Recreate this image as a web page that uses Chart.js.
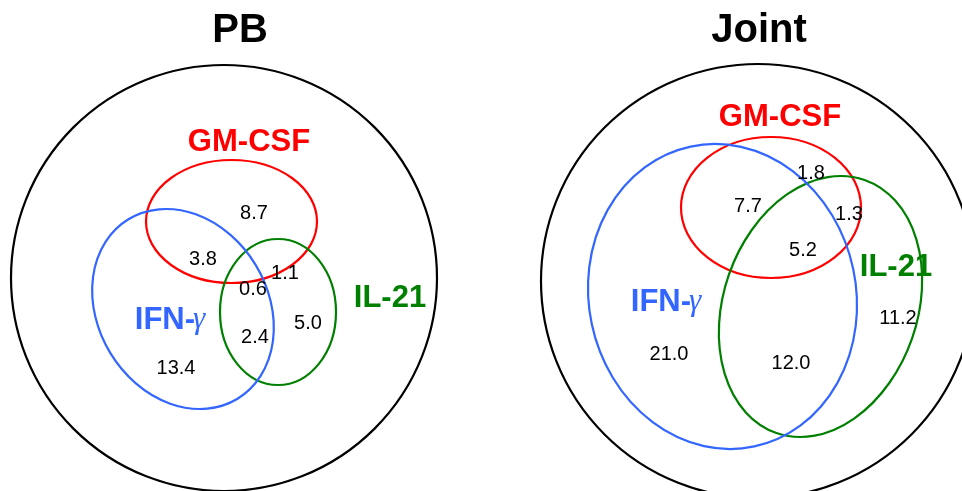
<!DOCTYPE html>
<html>
<head>
<meta charset="utf-8">
<script src="https://cdn.jsdelivr.net/npm/chart.js@4"></script>
<style>
  html, body { margin: 0; padding: 0; background: #fff; }
  #wrap { width: 962px; height: 491px; }
</style>
</head>
<body>
<div id="wrap"><canvas id="venn"></canvas></div>
<script>
// data
var panelTitles = ['PB', 'Joint'];
var setNames = ['GM-CSF', 'IL-21', 'IFN-γ'];
var setColors = ['#ff0000', '#008000', '#3366ff'];
// region order: GM only, GM+IL, GM+IFN, all three, IFN+IL, IL only, IFN only
var regionNames = ['GM-CSF', 'GM-CSF/IL-21', 'GM-CSF/IFN-γ', 'all', 'IFN-γ/IL-21', 'IL-21', 'IFN-γ'];
var pbValues = [8.7, 1.1, 3.8, 0.6, 2.4, 5.0, 13.4];
var jointValues = [1.8, 1.3, 7.7, 5.2, 12.0, 11.2, 21.0];

// layout (page units, same as pixels; y grows down)
var titlePos = [[240, 31], [759, 31]];
var outerCircle = [[224, 278, 213], [758, 281, 217]];
// ellipse: cx, cy, rx, ry, rotation(deg) -- order GM-CSF, IL-21, IFN-γ
var pbEllipses = [[231.5, 221.5, 85.5, 61.5, 0], [278, 312, 58, 73, 0], [183, 309, 105, 85, 58.7]];
var jointEllipses = [[771, 207.5, 90, 70.5, 0], [820.5, 306.5, 97, 134, 19.2], [722.5, 296.5, 133.6, 153.3, -12]];
var pbNamePos = [[249, 142], [390, 298], [170, 320]];
var jointNamePos = [[780, 117], [896, 267], [666, 302]];
var pbValuePos = [[254, 213], [285, 273], [203, 259], [253, 289], [255, 337], [308, 323], [176, 368]];
var jointValuePos = [[811, 173], [849, 214], [748, 206], [803, 250], [791, 363], [898, 318], [669, 354]];

var sansBold = 'bold 31px "Liberation Sans", Arial, sans-serif';
var greekFont = 'italic 31px "Liberation Serif", "DejaVu Serif", serif';

function pts(pos, vals) {
       return pos.map(function (p, i) { return { x: p[0], y: p[1], v: vals[i] }; });
}

// set name, with the greek letter in an italic serif like the original symbol font
function drawName(ctx, name, x, y) {
       var last = name.slice(-1);
       if (last !== 'γ') {
              ctx.textAlign = 'center';
              ctx.fillText(name, x, y);
              return;
       }
       var head = name.slice(0, -1);
       ctx.font = sansBold;
       var w1 = ctx.measureText(head).width;
       ctx.font = greekFont;
       var w2 = ctx.measureText(last).width - 2;
       var left = x - (w1 + w2) / 2;
       ctx.textAlign = 'left';
       ctx.font = sansBold;
       ctx.fillText(head, left, y);
       ctx.font = greekFont;
       ctx.fillText(last, left + w1 - 2, y);
       ctx.font = sansBold;
}

var vennPlugin = {
       id: 'venn',
       beforeDatasetsDraw: function (chart) {
              var ctx = chart.ctx, xs = chart.scales.x, ys = chart.scales.y;
              var k = xs.getPixelForValue(1) - xs.getPixelForValue(0);   // px per unit
              ctx.save();
              // titles
              ctx.fillStyle = '#000';
              ctx.font = 'bold 40px "Liberation Sans", Arial, sans-serif';
              ctx.textAlign = 'center';
              ctx.textBaseline = 'middle';
              panelTitles.forEach(function (t, i) {
                     ctx.fillText(t, xs.getPixelForValue(titlePos[i][0]), ys.getPixelForValue(titlePos[i][1]));
              });
              // outer circles
              ctx.lineWidth = 2.2;
              ctx.strokeStyle = '#000';
              outerCircle.forEach(function (c) {
                     ctx.beginPath();
                     ctx.arc(xs.getPixelForValue(c[0]), ys.getPixelForValue(c[1]), c[2] * k, 0, Math.PI * 2);
                     ctx.stroke();
              });
              // set ellipses
              [pbEllipses, jointEllipses].forEach(function (list) {
                     list.forEach(function (e, i) {
                            ctx.strokeStyle = setColors[i];
                            ctx.beginPath();
                            ctx.ellipse(xs.getPixelForValue(e[0]), ys.getPixelForValue(e[1]), e[2] * k, e[3] * k,
                                   e[4] * Math.PI / 180, 0, Math.PI * 2);
                            ctx.stroke();
                     });
              });
              // set names
              ctx.font = sansBold;
              [pbNamePos, jointNamePos].forEach(function (list) {
                     list.forEach(function (p, i) {
                            ctx.fillStyle = setColors[i];
                            drawName(ctx, setNames[i], xs.getPixelForValue(p[0]), ys.getPixelForValue(p[1]));
                     });
              });
              ctx.restore();
       },
       afterDatasetsDraw: function (chart) {
              var ctx = chart.ctx;
              ctx.save();
              ctx.fillStyle = '#000';
              ctx.font = '20px "Liberation Sans", Arial, sans-serif';
              ctx.textAlign = 'center';
              ctx.textBaseline = 'middle';
              chart.data.datasets.forEach(function (ds, di) {
                     chart.getDatasetMeta(di).data.forEach(function (el, i) {
                            ctx.fillText(ds.data[i].v.toFixed(1), el.x, el.y);
                     });
              });
              ctx.restore();
       }
};

new Chart(document.getElementById('venn'), {
       type: 'scatter',
       data: {
              datasets: [
                     { label: panelTitles[0], data: pts(pbValuePos, pbValues), pointRadius: 0 },
                     { label: panelTitles[1], data: pts(jointValuePos, jointValues), pointRadius: 0 }
              ]
       },
       options: {
              responsive: true,
              maintainAspectRatio: false,
              animation: false,
              layout: { padding: 0 },
              scales: {
                     x: { type: 'linear', min: 0, max: 962, display: false },
                     y: { type: 'linear', min: 0, max: 491, reverse: true, display: false }
              },
              plugins: {
                     legend: { display: false },
                     tooltip: { enabled: false }
              }
       },
       plugins: [vennPlugin]
});
</script>
</body>
</html>
